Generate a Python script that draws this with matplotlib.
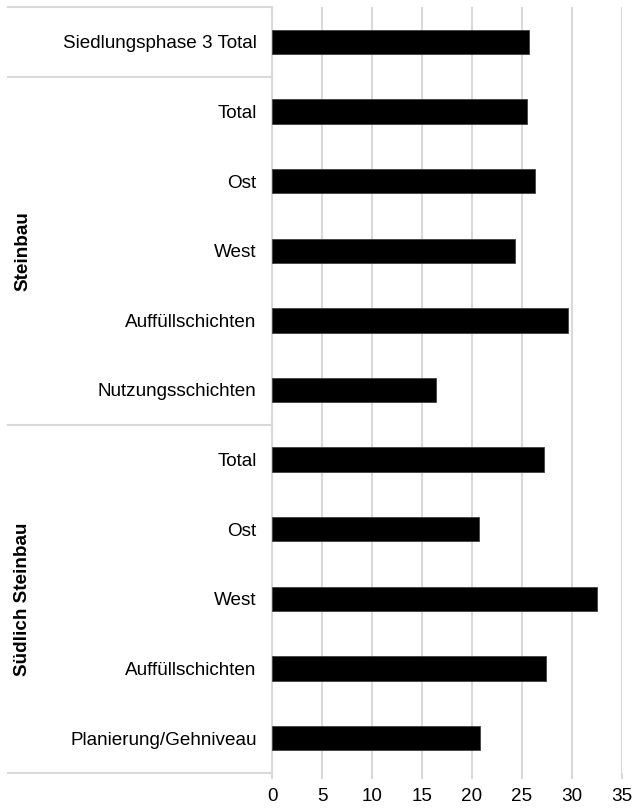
import matplotlib
matplotlib.use('Agg')
from matplotlib import pyplot as plt
import matplotlib.transforms as mtransforms

plt.rcParams['font.family'] = ['Liberation Sans', 'DejaVu Sans']

# rows top to bottom
labels = ['Siedlungsphase 3 Total',
          'Total', 'Ost', 'West', 'Auffüllschichten', 'Nutzungsschichten',
          'Total', 'Ost', 'West', 'Auffüllschichten', 'Planierung/Gehniveau']
values = [25.7,
          25.5, 26.3, 24.3, 29.6, 16.4,
          27.2, 20.7, 32.5, 27.4, 20.8]
groups = ['', 'Steinbau', 'Südlich Steinbau']
group_sizes = [1, 5, 5]

grid_col = '#d9d9d9'
fs = 13.6

fig = plt.figure(figsize=(6.33, 8.1), dpi=100)
ax = fig.add_axes([272 / 633, 1 - 773 / 810, 350 / 633, 766 / 810])

pos = list(range(len(labels)))
ax.barh(pos, values, height=0.35, color='black', edgecolor='#404040', linewidth=0.6, zorder=3)

ax.set_xlim(0, 35)
ax.set_xticks(range(0, 36, 5))
ax.set_ylim(len(labels) - 0.5, -0.5)
ax.set_yticks(pos)
ax.set_yticklabels(labels, fontsize=fs)
ax.tick_params(axis='y', length=0, pad=11)
ax.tick_params(axis='x', length=4, color=grid_col, width=1.5, labelsize=fs, pad=7)
ax.grid(axis='x', color=grid_col, linewidth=1.5, zorder=0)
for s in ['top', 'right', 'bottom']:
    ax.spines[s].set_visible(False)
ax.spines['left'].set_color(grid_col)
ax.spines['left'].set_linewidth(1.5)

# category separators and group labels
trans = mtransforms.blended_transform_factory(ax.transAxes, ax.transData)
x_left = (8 - 272) / 350
start = -0.5
ax.plot([x_left, 0], [start, start], color=grid_col, lw=1.5, transform=trans, clip_on=False)
for g, n in zip(groups, group_sizes):
    end = start + n
    ax.plot([x_left, 0], [end, end], color=grid_col, lw=1.5, transform=trans, clip_on=False)
    if g:
        ax.text((23 - 272) / 350, (start + end) / 2, g, rotation=90, fontsize=fs,
                fontweight='bold', ha='center', va='center', transform=trans)
    start = end

fig.savefig('out.png', dpi=100)
